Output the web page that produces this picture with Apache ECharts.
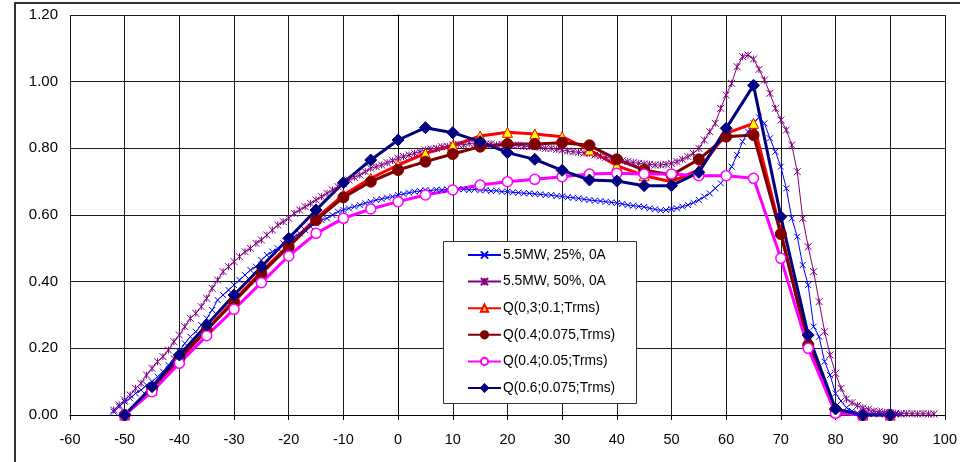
<!DOCTYPE html>
<html>
<head>
<meta charset="utf-8">
<script src="https://cdn.jsdelivr.net/npm/echarts@6/dist/echarts.min.js"></script>
<style>html,body{margin:0;padding:0;background:#fff;}#c{width:960px;height:462px;}</style>
</head>
<body>
<div id="c"></div>
<script>
// ---- data ----
const seriesNames = ['5.5MW, 25%, 0A', '5.5MW, 50%, 0A', 'Q(0,3;0.1;Trms)', 'Q(0.4;0.075,Trms)', 'Q(0.4;0.05;Trms)', 'Q(0.6;0.075;Trms)'];
const yTicks = [0, 0.2, 0.4, 0.6, 0.8, 1.0, 1.2];
const xTicks = [-60, -50, -40, -30, -20, -10, 0, 10, 20, 30, 40, 50, 60, 70, 80, 90, 100];

// Q series sampled every 5 from -50 to 90
const qX = [-50,-45,-40,-35,-30,-25,-20,-15,-10,-5,0,5,10,15,20,25,30,35,40,45,50,55,60,65,70,75,80,85,90];
const qRed = [0.00,0.075,0.165,0.255,0.345,0.43,0.51,0.59,0.66,0.71,0.75,0.785,0.808,0.837,0.848,0.843,0.835,0.795,0.748,0.718,0.70,0.735,0.845,0.875,0.55,0.21,0.01,0.0,0.0];
const qDarkRed = [0.00,0.08,0.17,0.255,0.34,0.425,0.505,0.585,0.653,0.70,0.735,0.76,0.783,0.805,0.813,0.813,0.817,0.809,0.767,0.735,0.72,0.767,0.835,0.84,0.543,0.21,0.015,0.0,0.0];
const qPink = [0.00,0.07,0.155,0.238,0.317,0.397,0.477,0.545,0.59,0.618,0.64,0.66,0.675,0.69,0.70,0.707,0.715,0.723,0.725,0.723,0.723,0.718,0.718,0.71,0.47,0.20,0.005,0.0,0.0];
const qNavy = [0.00,0.085,0.18,0.27,0.36,0.445,0.53,0.615,0.697,0.765,0.825,0.862,0.847,0.82,0.787,0.767,0.734,0.705,0.702,0.688,0.688,0.728,0.86,0.989,0.595,0.24,0.018,0.0,0.0];

// thin measured series, one point per unit starting at -52
const thinStart = -52;
const mw25 = [0.01,0.025,0.04,0.05,0.065,0.075,0.09,0.10,0.115,0.13,0.15,0.17,0.19,0.215,0.235,0.25,0.27,0.29,0.315,0.345,0.36,0.375,0.39,0.405,0.42,0.435,0.445,0.465,0.48,0.49,0.50,0.515,0.525,0.535,0.545,0.555,0.565,0.575,0.585,0.59,0.60,0.61,0.615,0.62,0.625,0.63,0.635,0.64,0.645,0.648,0.652,0.655,
0.66,0.663,0.667,0.67,0.672,0.675,0.673,0.676,0.675,0.677,0.675,0.678,0.677,0.675,0.677,0.674,0.675,0.672,0.673,0.67,0.67,0.668,0.667,0.665,0.665,0.663,0.662,0.66,0.66,0.657,0.656,0.653,0.652,0.65,0.647,0.645,0.643,0.642,0.64,0.638,0.636,0.633,0.63,0.628,0.626,0.624,0.62,0.617,0.614,0.615,
0.618,0.62,0.625,0.63,0.637,0.645,0.655,0.665,0.68,0.695,0.715,0.745,0.78,0.82,0.85,0.875,0.893,0.875,0.83,0.79,0.745,0.68,0.59,0.535,0.45,0.39,0.265,0.235,0.16,0.12,0.065,0.042,0.022,0.012,0.006,0.004,0.003,0.003,0.002,0.003,0.002,0.002,0.002];
const mw50 = [0.015,0.03,0.045,0.06,0.08,0.095,0.12,0.14,0.16,0.175,0.195,0.22,0.24,0.265,0.29,0.305,0.325,0.35,0.38,0.405,0.43,0.445,0.46,0.475,0.49,0.50,0.515,0.525,0.54,0.555,0.57,0.58,0.59,0.605,0.615,0.625,0.635,0.645,0.655,0.665,0.675,0.685,0.695,0.705,0.713,0.72,0.73,0.74,0.745,0.75,0.757,0.763,
0.77,0.775,0.78,0.785,0.79,0.795,0.798,0.80,0.805,0.806,0.81,0.812,0.81,0.815,0.813,0.815,0.812,0.814,0.81,0.812,0.81,0.808,0.81,0.806,0.805,0.805,0.803,0.80,0.80,0.797,0.795,0.792,0.79,0.788,0.786,0.785,0.78,0.777,0.773,0.77,0.767,0.763,0.76,0.757,0.755,0.753,0.752,0.75,0.75,0.752,
0.755,0.76,0.767,0.775,0.785,0.80,0.825,0.85,0.875,0.92,0.96,0.995,1.045,1.075,1.08,1.068,1.037,1.005,0.965,0.92,0.885,0.855,0.81,0.73,0.59,0.505,0.43,0.34,0.25,0.18,0.125,0.08,0.048,0.037,0.028,0.022,0.017,0.012,0.01,0.008,0.006,0.005,0.004,0.004,0.004,0.003,0.004,0.003,0.003];

// ---- build ----
const pairsQ = arr => arr.map((v, i) => [qX[i], v]);
const pairsThin = arr => arr.map((v, i) => [thinStart + i, v]);

const xSym = 'path://M0,0L10,10M10,0L0,10';
const starSym = 'path://M0,0L10,10M10,0L0,10M5,0L5,10';
const FONT = '"Liberation Sans", Arial, sans-serif';

const chart = echarts.init(document.getElementById('c'), null, {renderer: 'canvas'});
chart.setOption({
  animation: false,
  backgroundColor: '#fff',
  textStyle: {fontFamily: FONT},
  grid: {left: 70, top: 15, right: 10, bottom: 47, containLabel: false},
  xAxis: {
    type: 'value', min: -60, max: 100, interval: 10,
    axisLine: {show: true, lineStyle: {color: '#000', width: 1}},
    axisTick: {show: true, length: 5, lineStyle: {color: '#000'}},
    axisLabel: {color: '#000', fontSize: 14.5, fontFamily: FONT, margin: 17,
      formatter: v => xTicks.includes(v) ? String(v) : ''},
    splitLine: {show: true, lineStyle: {color: '#1a1a1a', width: 1}}
  },
  yAxis: {
    type: 'value', min: 0, max: 1.2, interval: 0.2,
    axisLine: {show: true, lineStyle: {color: '#000', width: 1}},
    axisTick: {show: true, length: 5, lineStyle: {color: '#000'}},
    axisLabel: {color: '#000', fontSize: 15, fontFamily: FONT, margin: 12,
      formatter: v => yTicks.some(t => Math.abs(t - v) < 1e-9) ? v.toFixed(2) : ''},
    splitLine: {show: true, lineStyle: {color: '#1a1a1a', width: 1}}
  },
  graphic: [
    {type: 'rect', z: -1, silent: true, shape: {x: 15, y: 3, width: 1000, height: 500},
      style: {fill: 'none', stroke: '#333', lineWidth: 2}},
    {type: 'rect', z: 3, silent: true, shape: {x: 443.5, y: 241.5, width: 193, height: 162},
      style: {fill: '#fff', stroke: '#333', lineWidth: 1}}
  ],
  legend: {
    z: 5,
    orient: 'vertical', left: 467, top: 248,
    itemWidth: 33, itemHeight: 9, itemGap: 12.6,
    padding: 0,
    textStyle: {fontSize: 13.8, lineHeight: 14, height: 14, color: '#000', fontFamily: FONT, padding: [0, 0, 0, -3]},
    data: seriesNames
  },
  series: [
    {name: seriesNames[0], type: 'line', data: pairsThin(mw25),
      symbol: xSym, symbolSize: 6, showAllSymbol: true,
      lineStyle: {color: '#0000ff', width: 1},
      itemStyle: {color: '#0000ff', borderColor: '#0000ff', borderWidth: 1}},
    {name: seriesNames[1], type: 'line', data: pairsThin(mw50),
      symbol: starSym, symbolSize: 7, showAllSymbol: true,
      lineStyle: {color: '#800080', width: 1},
      itemStyle: {color: '#800080', borderColor: '#800080', borderWidth: 1}},
    {name: seriesNames[2], type: 'line', data: pairsQ(qRed),
      symbol: 'triangle', symbolSize: 10, showAllSymbol: true,
      lineStyle: {color: '#ff0000', width: 3},
      itemStyle: {color: '#ffff00', borderColor: '#ff0000', borderWidth: 1}},
    {name: seriesNames[3], type: 'line', data: pairsQ(qDarkRed),
      symbol: 'circle', symbolSize: 11, showAllSymbol: true,
      lineStyle: {color: '#800000', width: 3},
      itemStyle: {color: '#800000', borderColor: '#800000', borderWidth: 1}},
    {name: seriesNames[4], type: 'line', data: pairsQ(qPink),
      symbol: 'circle', symbolSize: 10, showAllSymbol: true,
      lineStyle: {color: '#ff00ff', width: 3},
      itemStyle: {color: '#ffffff', borderColor: '#ff00ff', borderWidth: 1.5}},
    {name: seriesNames[5], type: 'line', data: pairsQ(qNavy),
      symbol: 'diamond', symbolSize: 12, showAllSymbol: true,
      lineStyle: {color: '#000080', width: 3},
      itemStyle: {color: '#000080', borderColor: '#000080', borderWidth: 1}}
  ]
});
</script>
</body>
</html>
